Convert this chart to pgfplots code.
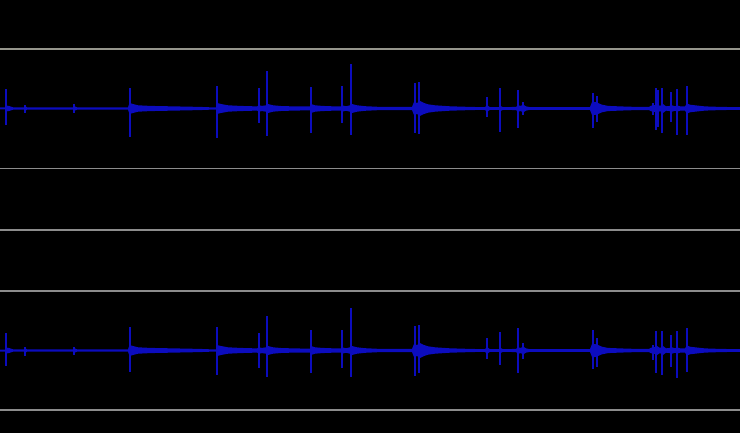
\documentclass[border=0pt]{standalone}
\usepackage{pgfplots}
\usepackage{pgfplotstable}
\pgfplotsset{compat=1.18}
\usepgfplotslibrary{fillbetween}
\definecolor{wave}{RGB}{12,12,190}
\definecolor{sepA}{RGB}{150,150,140}
\definecolor{sep}{RGB}{140,140,140}

% half-thickness profile of the waveform (pixels)
\pgfplotstableread{
x h
0 1
5 1
6 3
9 2.5
13 1.2
24 1.2
25 2.5
27 1.2
73 1.2
74 2.5
77 1.2
128 1.2
129.5 5.5
133 4.5
138 3.2
150 2.6
175 2.1
200 1.6
210 1.2
216 1.2
217 5.5
221 4.5
228 3.2
240 2.6
257 2.1
259 3.2
262 2.6
266 3.2
268 4.5
273 3.2
282 2.4
300 2
310 2
311 4.5
315 3.2
322 2.6
335 2.1
341 2.1
342 3.2
346 2.2
350 3.2
352 4.5
357 3.2
365 2.3
380 1.6
412 1.6
414 6.5
417 5.5
420 7.5
424 5.5
428 4.2
435 3.2
450 2.2
470 1.6
485 1.3
487 3.5
490 1.3
499 1.3
500 2.8
503 1.3
516 1.6
518 3.2
521 2.6
523 4.2
526 2.1
530 1.4
590 1.4
592 6.5
595 6.5
598 5.5
602 3.8
608 2.6
620 2.1
636 1.6
649 1.6
651 2.8
654 3.2
657 4.5
660 2.6
663 4.5
666 2.2
670 2.6
672 3.2
675 2.2
677 3.2
680 2.2
685 2.2
687 5
690 3.8
695 3.2
705 2.1
720 1.6
740 1.3
}\profile

% spikes of channel 1: extent above (up) and below (dn) the centre line
\pgfplotstableread{
x up dn
6 19.2 16.5
25 3.5 4.5
74 4.5 4.5
129.5 20.8 28.2
217 22.5 29.5
259.3 20.5 14.5
266.7 37.5 27.2
311 21.8 24.8
342.3 22.5 14.5
350.7 44.5 26.5
415 25.5 24.5
419.3 26.8 25.8
486.7 11.8 8.2
500 20.5 23.2
517.7 18.5 19.5
522.7 6.8 6.5
592.7 15.8 19.5
596.7 12.5 13.2
652.7 5.5 6.5
656 20.5 21.5
658.3 18.5 18.5
662.3 20.5 24.5
671 16.8 13.2
676.7 19.2 26.5
686.7 22.5 26.5
}\spikesA

% spikes of channel 2
\pgfplotstableread{
x up dn
6 17.2 15.5
25 3.8 5.2
74 3.8 4.5
129.5 23.8 21.8
217 23.8 24.5
259.3 17.2 17.2
266.7 34.5 26.2
311 20.5 22.8
342.3 20.5 17.2
350.7 42.8 26.2
415 24.8 25.2
419.3 25.5 22.8
486.7 12.2 8.5
500 18.2 14.5
517.7 22.2 22.8
522.7 7.2 8.5
592.7 20.5 18.5
596.7 12.2 16.2
652.7 5.5 9.5
656 19.5 22.8
662.3 19.5 24.5
671 15.5 16.2
676.7 19.5 27.8
686.7 22.8 21.8
}\spikesB

\begin{document}
\begin{tikzpicture}
\begin{axis}[
  width=740bp, height=433bp, scale only axis,
  xmin=0, xmax=740, ymin=0, ymax=433, y dir=reverse,
  axis lines=none, ticks=none, clip=true,
  axis background/.style={fill=black},
]
\addplot[sepA, line width=1.3bp] coordinates {(0,49) (740,49)};
\addplot[sep, line width=1.3bp] coordinates {(0,168.5) (740,168.5)};
\addplot[sep, line width=1.3bp] coordinates {(0,230) (740,230)};
\addplot[sep, line width=1.3bp] coordinates {(0,291) (740,291)};
\addplot[sep, line width=1.3bp] coordinates {(0,410) (740,410)};

% channel 1 body
\addplot[name path=tu, draw=none] table[x=x, y expr=108.5-\thisrow{h}] {\profile};
\addplot[name path=tl, draw=none] table[x=x, y expr=108.5+\thisrow{h}] {\profile};
\addplot[fill=wave, draw=none] fill between[of=tu and tl];
% channel 2 body
\addplot[name path=bu, draw=none] table[x=x, y expr=350.5-\thisrow{h}] {\profile};
\addplot[name path=bl, draw=none] table[x=x, y expr=350.5+\thisrow{h}] {\profile};
\addplot[fill=wave, draw=none] fill between[of=bu and bl];

% spikes
\addplot[wave, line width=0.8bp, mark=none,
  error bars/.cd, y dir=both, y explicit, error mark=none,
  error bar style={wave, line width=2bp}]
  table[x=x, y expr=108.5, y error plus=dn, y error minus=up] {\spikesA};
\addplot[wave, line width=0.8bp, mark=none,
  error bars/.cd, y dir=both, y explicit, error mark=none,
  error bar style={wave, line width=2bp}]
  table[x=x, y expr=350.5, y error plus=dn, y error minus=up] {\spikesB};
\end{axis}
\pgfresetboundingbox
\path (current axis.south west) rectangle (current axis.north east);
\end{tikzpicture}
\end{document}
